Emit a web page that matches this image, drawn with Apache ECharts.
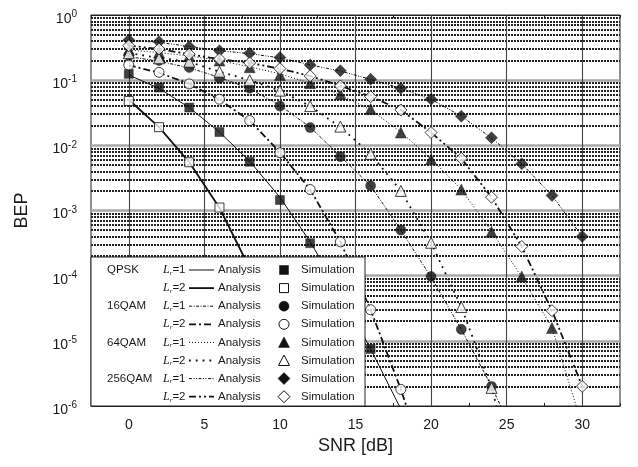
<!DOCTYPE html>
<html>
<head>
<meta charset="utf-8">
<script src="https://cdn.jsdelivr.net/npm/echarts@6/dist/echarts.min.js"></script>
<style>
html,body{margin:0;padding:0;background:#fff;}
#chart{width:638px;height:467px;}
</style>
</head>
<body>
<div id="chart"></div>
<script>
// ---- data ----
const snr = [0, 2, 4, 6, 8, 10, 12, 14, 16, 18, 20, 22, 24, 26, 28, 30];
const xTicks = [0, 5, 10, 15, 20, 25, 30];
const yDecades = [1e-6, 1e-5, 1e-4, 1e-3, 1e-2, 1e-1, 1];
const minorMult = [2, 3, 4, 5, 6, 7, 8, 9];

// Simulation (markers)
const simQpsk1 = [0.125, 0.077, 0.038, 0.016, 0.0056, 0.00145, 3.15e-4, 5.5e-5, 7.5e-6];
const simQpsk2 = [0.048, 0.019, 0.0055, 0.00111, 1.1e-4, 5e-6];
const sim16_1 = [0.24, 0.2, 0.156, 0.107, 0.075, 0.040, 0.0187, 0.0067, 0.0024, 5.0e-4, 9.7e-5, 1.5e-5, 2.0e-6];
const sim16_2 = [0.171, 0.132, 0.0875, 0.051, 0.024, 0.0077, 0.0021, 3.3e-4, 3.0e-5, 1.8e-6];
const sim64_1 = [0.29, 0.265, 0.235, 0.2, 0.158, 0.12, 0.09, 0.061, 0.036, 0.0157, 0.0061, 0.0021, 4.7e-4, 9.7e-5, 1.57e-5];
const sim64_2 = [0.259, 0.217, 0.192, 0.135, 0.1, 0.069, 0.040, 0.0194, 0.0074, 0.002, 3.2e-4, 3.3e-5, 1.9e-6];
const sim256_1 = [0.414, 0.39, 0.327, 0.283, 0.259, 0.223, 0.171, 0.14, 0.103, 0.075, 0.051, 0.028, 0.0131, 0.0052, 0.0017, 4.0e-4];
const sim256_2 = [0.338, 0.301, 0.25, 0.211, 0.184, 0.15, 0.116, 0.0815, 0.0558, 0.0349, 0.0157, 0.0063, 0.0016, 2.8e-4, 2.9e-5, 2.0e-6];

// Analysis (lines)
const anaQpsk1 = [0.12, 0.075, 0.038, 0.016, 0.0057, 0.0016, 3.3e-4, 5.5e-5, 7.5e-6, 9e-7];
const anaQpsk2 = [0.05, 0.019, 0.0055, 0.0011, 1.3e-4, 8e-6, 2.5e-7];
const ana16_1 = [0.23, 0.195, 0.155, 0.11, 0.074, 0.041, 0.019, 0.0068, 0.0024, 5.0e-4, 9.5e-5, 1.5e-5, 2.0e-6, 2e-7];
const ana16_2 = [0.17, 0.13, 0.088, 0.05, 0.024, 0.0078, 0.0021, 3.3e-4, 3.0e-5, 1.8e-6, 7e-8];
const ana64_1 = [0.29, 0.265, 0.235, 0.2, 0.16, 0.125, 0.09, 0.06, 0.035, 0.016, 0.0062, 0.0021, 4.8e-4, 9.5e-5, 1.6e-5, 5e-7];
const ana64_2 = [0.26, 0.22, 0.19, 0.135, 0.1, 0.069, 0.04, 0.019, 0.0074, 0.002, 3.2e-4, 3.3e-5, 1.9e-6, 4e-8];
const ana256_1 = [0.41, 0.38, 0.33, 0.285, 0.255, 0.22, 0.172, 0.138, 0.103, 0.075, 0.051, 0.028, 0.013, 0.0052, 0.0017, 4.0e-4];
const ana256_2 = [0.34, 0.3, 0.25, 0.21, 0.184, 0.15, 0.116, 0.082, 0.056, 0.035, 0.0157, 0.0063, 0.0016, 2.8e-4, 2.9e-5, 2.0e-6];

const modNames = ['QPSK', '16QAM', '64QAM', '256QAM'];
const lrLabels = ['1', '2'];
const anaText = 'Analysis';
const simText = 'Simulation';

// ---- styles ----
const FONT = 'Liberation Sans, Arial, Helvetica, sans-serif';
const TXT = '#1a1a1a';
const specs = [
  {sim: simQpsk1, ana: anaQpsk1, symbol: 'rect', size: 9, filled: true, dash: 'solid', width: 1},
  {sim: simQpsk2, ana: anaQpsk2, symbol: 'rect', size: 9, filled: false, dash: 'solid', width: 1.8},
  {sim: sim16_1, ana: ana16_1, symbol: 'circle', size: 10, filled: true, dash: [3, 1.5, 1, 1.5], width: 1},
  {sim: sim16_2, ana: ana16_2, symbol: 'circle', size: 10, filled: false, dash: [7, 3, 2, 3], width: 1.8},
  {sim: sim64_1, ana: ana64_1, symbol: 'triangle', size: 11, filled: true, dash: [1, 2], width: 1},
  {sim: sim64_2, ana: ana64_2, symbol: 'triangle', size: 11, filled: false, dash: [1.8, 5], width: 1.8},
  {sim: sim256_1, ana: ana256_1, symbol: 'diamond', size: 12, filled: true, dash: [3, 1.5, 1, 1.5, 1, 1.5], width: 1},
  {sim: sim256_2, ana: ana256_2, symbol: 'diamond', size: 12, filled: false, dash: [7, 3, 2, 3, 2, 3], width: 1.8}
];

function pairs(vals) {
  return vals.map((v, i) => [snr[i], v]);
}

const chart = echarts.init(document.getElementById('chart'), null, {renderer: 'canvas'});

// grid lines via markLine (library scales)
const gridLines = [];
yDecades.slice(0, -1).forEach(d => {
  minorMult.forEach(m => {
    gridLines.push({yAxis: d * m, lineStyle: {color: '#222', width: 1.9, type: [2, 1]}});
  });
});
yDecades.forEach(d => {
  if (d > 1e-6 && d < 1) gridLines.push({yAxis: d, lineStyle: {color: '#a8a8a8', width: 2.5, type: 'solid'}});
});
xTicks.forEach(x => {
  gridLines.push({xAxis: x, lineStyle: {color: '#444', width: 1.1, type: 'solid'}});
});

const series = [{
  type: 'line',
  data: [[0, 0.5]],
  showSymbol: false,
  lineStyle: {width: 0, opacity: 0},
  silent: true,
  z: 1,
  animation: false,
  markLine: {
    silent: true,
    z: 1,
    precision: 12,
    symbol: ['none', 'none'],
    label: {show: false},
    animation: false,
    data: gridLines
  }
}];

specs.forEach(s => {
  series.push({
    type: 'line',
    data: pairs(s.ana),
    showSymbol: false,
    clip: true,
    z: 3,
    animation: false,
    lineStyle: {color: '#111', width: s.width, type: s.dash}
  });
});
specs.forEach(s => {
  series.push({
    type: 'scatter',
    data: pairs(s.sim),
    symbol: s.symbol,
    symbolSize: s.size,
    clip: true,
    z: 4,
    animation: false,
    itemStyle: s.filled ? {color: '#111', borderColor: '#111', borderWidth: 0.5}
                        : {color: '#fff', borderColor: '#111', borderWidth: 1}
  });
});

// ---- legend (graphic) ----
const LX = 91, LY = 257, LW = 274, LH = 149;
const rowY0 = 270, rowStep = 18.1;
const ZL = 100;
const legendEls = [{
  type: 'rect', z: ZL, shape: {x: LX, y: LY, width: LW, height: LH},
  style: {fill: '#fff', stroke: '#222', lineWidth: 1}
}];
specs.forEach((s, i) => {
  const y = rowY0 + i * rowStep;
  if (i % 2 === 0) {
    legendEls.push({type: 'text', z: ZL + 1, x: 107, y: y, style: {text: modNames[i / 2], font: '11.5px ' + FONT, fill: TXT, textVerticalAlign: 'middle'}});
  }
  legendEls.push({
    type: 'text', z: ZL + 1, x: 163, y: y,
    style: {
      text: '{l|L}{r|r}{n|=' + lrLabels[i % 2] + '}',
      fill: TXT, textVerticalAlign: 'middle',
      rich: {
        l: {fontFamily: 'Liberation Serif, Times New Roman, serif', fontStyle: 'italic', fontSize: 12, fill: TXT},
        r: {fontFamily: 'Liberation Serif, Times New Roman, serif', fontStyle: 'italic', fontSize: 7, fill: TXT, padding: [6, 0, 0, 0]},
        n: {fontFamily: FONT, fontSize: 11.5, fill: TXT}
      }
    }
  });
  legendEls.push({
    type: 'line', z: ZL + 1, shape: {x1: 189, y1: y, x2: 214, y2: y},
    style: {stroke: '#111', lineWidth: s.width, lineDash: s.dash === 'solid' ? null : s.dash}
  });
  legendEls.push({type: 'text', z: ZL + 1, x: 218, y: y, style: {text: anaText, font: '11.5px ' + FONT, fill: TXT, textVerticalAlign: 'middle'}});
  const mx = 284;
  const st = s.filled ? {fill: '#111', stroke: '#111', lineWidth: 0.5} : {fill: '#fff', stroke: '#111', lineWidth: 1};
  let shp;
  if (s.symbol === 'rect') shp = {type: 'rect', shape: {x: mx - 4.5, y: y - 4.5, width: 9, height: 9}, style: st};
  else if (s.symbol === 'circle') shp = {type: 'circle', shape: {cx: mx, cy: y, r: 5}, style: st};
  else if (s.symbol === 'triangle') shp = {type: 'polygon', shape: {points: [[mx, y - 5.5], [mx + 5.5, y + 5], [mx - 5.5, y + 5]]}, style: st};
  else shp = {type: 'polygon', shape: {points: [[mx, y - 6], [mx + 6, y], [mx, y + 6], [mx - 6, y]]}, style: st};
  shp.z = ZL + 1;
  legendEls.push(shp);
  legendEls.push({type: 'text', z: ZL + 1, x: 301, y: y, style: {text: simText, font: '11.5px ' + FONT, fill: TXT, textVerticalAlign: 'middle'}});
});

const xAxisCommon = {
  type: 'value', min: -2.5, max: 32.5, interval: 2.5,
  splitLine: {show: false},
  axisLine: {show: true, lineStyle: {color: '#222', width: 1}},
  axisTick: {show: true, inside: true, length: 3, lineStyle: {color: '#222'}}
};

const option = {
  backgroundColor: '#fff',
  animation: false,
  textStyle: {fontFamily: FONT},
  grid: {left: 91, right: 18, top: 15, bottom: 61, show: true, borderColor: '#222', borderWidth: 1, backgroundColor: '#fff'},
  xAxis: [
    Object.assign({}, xAxisCommon, {
      position: 'bottom',
      name: 'SNR [dB]', nameLocation: 'middle', nameGap: 27,
      nameTextStyle: {fontSize: 18, color: TXT, fontFamily: FONT},
      axisLabel: {
        fontSize: 14, color: TXT, margin: 12, fontFamily: FONT,
        formatter: v => (Math.abs(v % 5) < 1e-9 && v >= 0 && v <= 30) ? String(v) : ''
      }
    }),
    Object.assign({}, xAxisCommon, {position: 'top', axisLabel: {show: false}})
  ],
  yAxis: [{
    type: 'log', logBase: 10, min: 1e-6, max: 1,
    name: 'BEP', nameLocation: 'middle', nameGap: 60,
    nameTextStyle: {fontSize: 18, color: TXT, fontFamily: FONT},
    axisLine: {show: true, lineStyle: {color: '#222'}},
    axisTick: {show: false},
    splitLine: {show: false},
    axisLabel: {
      margin: 14, color: TXT, fontFamily: FONT,
      padding: [8, 0, 0, 0],
      formatter: v => '{b|10}{s|' + Math.round(Math.log10(v)) + '}',
      rich: {
        b: {fontSize: 14, color: TXT, fontFamily: FONT},
        s: {fontSize: 10, color: TXT, fontFamily: FONT, padding: [0, 0, 9, 0]}
      }
    }
  }],
  series: series,
  graphic: {elements: [{type: 'group', z: ZL, children: legendEls}]}
};
chart.setOption(option);
</script>
</body>
</html>
